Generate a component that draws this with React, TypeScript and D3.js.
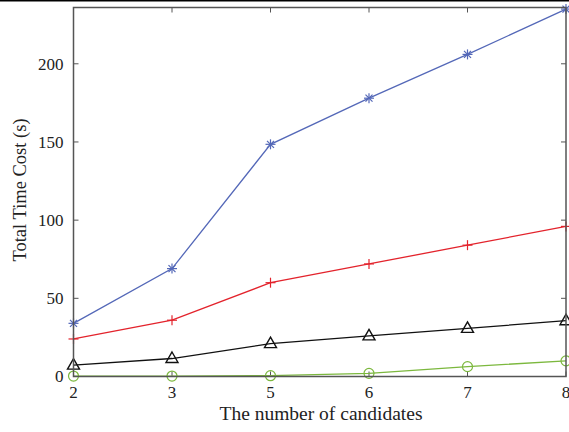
import React, { useRef, useEffect } from "react";
import * as d3 from "d3";

const categories = ["2", "3", "5", "6", "7", "8"];
const yTicks = [0, 50, 100, 150, 200];

const seriesAsterisk = [34, 69, 148.5, 178, 206, 235];
const seriesPlus = [24, 36, 60, 72, 84, 96];
const seriesTriangle = [7.3, 11.5, 21, 26, 30.8, 35.7];
const seriesCircle = [0.3, 0.3, 0.5, 2, 6.3, 10];

const series = [
  { name: "asterisk", values: seriesAsterisk, color: "#5468b8", marker: "asterisk" },
  { name: "plus", values: seriesPlus, color: "#e3232c", marker: "plus" },
  { name: "triangle", values: seriesTriangle, color: "#111111", marker: "triangle" },
  { name: "circle", values: seriesCircle, color: "#7cb83e", marker: "circle" },
];

const App = () => {
  const ref = useRef<SVGSVGElement>(null);
  const width = 569;
  const height = 432;

  useEffect(() => {
    const svg = d3.select(ref.current);
    svg.selectAll("*").remove();

    const margin = { left: 73.5, right: 3, top: 7.5, bottom: 55.5 };
    const x = d3
      .scalePoint()
      .domain(categories)
      .range([margin.left, width - margin.right]);
    const y = d3
      .scaleLinear()
      .domain([0, 236])
      .range([height - margin.bottom, margin.top]);

    const font = "'Liberation Serif', 'DejaVu Serif', serif";
    const axisColor = "#555555";
    const tickLen = 5;
    const x0 = margin.left;
    const x1 = width - margin.right;
    const y0 = height - margin.bottom;
    const y1 = margin.top;

    // stray border at the very top of the picture
    svg.append("rect").attr("x", 0).attr("y", 0).attr("width", width).attr("height", 1.5).attr("fill", "#000");

    // ticks, inward on all four sides
    const ticks = svg.append("g").attr("stroke", axisColor).attr("stroke-width", 1);
    categories.forEach((c) => {
      const px = x(c)!;
      ticks.append("line").attr("x1", px).attr("x2", px).attr("y1", y0).attr("y2", y0 - tickLen);
      ticks.append("line").attr("x1", px).attr("x2", px).attr("y1", y1).attr("y2", y1 + tickLen);
    });
    yTicks.forEach((t) => {
      const py = y(t);
      ticks.append("line").attr("x1", x0).attr("x2", x0 + tickLen).attr("y1", py).attr("y2", py);
      ticks.append("line").attr("x1", x1).attr("x2", x1 - tickLen).attr("y1", py).attr("y2", py);
    });

    // tick labels
    svg
      .append("g")
      .selectAll("text")
      .data(categories)
      .enter()
      .append("text")
      .attr("x", (d) => x(d)!)
      .attr("y", y0 + 21)
      .attr("text-anchor", "middle")
      .attr("font-family", font)
      .attr("font-size", 17)
      .attr("fill", "#222")
      .text((d) => d);

    svg
      .append("g")
      .selectAll("text")
      .data(yTicks)
      .enter()
      .append("text")
      .attr("x", x0 - 10)
      .attr("y", (d) => y(d))
      .attr("dy", "0.35em")
      .attr("text-anchor", "end")
      .attr("font-family", font)
      .attr("font-size", 17)
      .attr("fill", "#222")
      .text((d) => d);

    // axis titles
    svg
      .append("text")
      .attr("x", 321)
      .attr("y", 420)
      .attr("text-anchor", "middle")
      .attr("font-family", font)
      .attr("font-size", 19.5)
      .attr("fill", "#222")
      .text("The number of candidates");

    svg
      .append("text")
      .attr("transform", `translate(26, 190) rotate(-90)`)
      .attr("text-anchor", "middle")
      .attr("font-family", font)
      .attr("font-size", 18.5)
      .attr("fill", "#222")
      .text("Total Time Cost (s)");

    // series lines and markers
    const line = d3
      .line<number>()
      .x((_, i) => x(categories[i])!)
      .y((d) => y(d));

    series.forEach((s) => {
      svg
        .append("path")
        .datum(s.values)
        .attr("d", line)
        .attr("fill", "none")
        .attr("stroke", s.color)
        .attr("stroke-width", 1.3);

      const g = svg.append("g").attr("stroke", s.color).attr("fill", "none").attr("stroke-width", 1.2);
      s.values.forEach((v, i) => {
        const px = x(categories[i])!;
        const py = y(v);
        const m = g.append("g").attr("transform", `translate(${px},${py})`);
        const r = 5;
        if (s.marker === "asterisk") {
          m.append("line").attr("x1", -r).attr("x2", r).attr("y1", 0).attr("y2", 0);
          m.append("line").attr("x1", 0).attr("x2", 0).attr("y1", -r).attr("y2", r);
          m.append("line").attr("x1", -r * 0.7).attr("x2", r * 0.7).attr("y1", -r * 0.7).attr("y2", r * 0.7);
          m.append("line").attr("x1", -r * 0.7).attr("x2", r * 0.7).attr("y1", r * 0.7).attr("y2", -r * 0.7);
        } else if (s.marker === "plus") {
          m.append("line").attr("x1", -r).attr("x2", r).attr("y1", 0).attr("y2", 0);
          m.append("line").attr("x1", 0).attr("x2", 0).attr("y1", -r).attr("y2", r);
        } else if (s.marker === "triangle") {
          m.append("path").attr("d", "M0,-6.5L6,4L-6,4Z").attr("stroke-width", 1.4);
        } else {
          m.append("circle").attr("r", 5);
        }
      });
    });

    // frame
    svg
      .append("rect")
      .attr("x", x0)
      .attr("y", y1)
      .attr("width", x1 - x0)
      .attr("height", y0 - y1)
      .attr("fill", "none")
      .attr("stroke", axisColor)
      .attr("stroke-width", 1.5);
  }, []);

  return (
    <svg
      ref={ref}
      width={width}
      height={height}
      style={{ position: "absolute", left: 0, top: 0, background: "#fff" }}
    />
  );
};

export default App;
